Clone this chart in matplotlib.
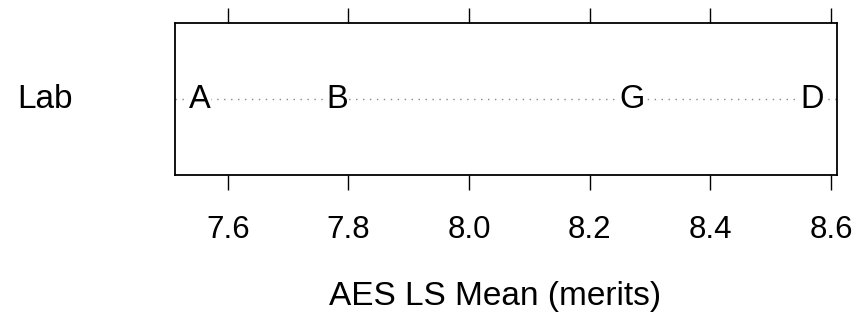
import matplotlib.pyplot as plt

plt.rcParams['font.family'] = ['Liberation Sans', 'DejaVu Sans']

labs = ["A", "B", "G", "D"]
means = [7.553, 7.781, 8.270, 8.569]
row_label = "Lab"
ticks = [7.6, 7.8, 8.0, 8.2, 8.4, 8.6]
tick_labels = ["7.6", "7.8", "8.0", "8.2", "8.4", "8.6"]

fig = plt.figure(figsize=(8.66, 3.14), dpi=100)
# box: x 175..836.7, y 23..175 (pixels)
ax = fig.add_axes([175 / 866, 1 - 175 / 314, (836.7 - 175) / 866, (175 - 23) / 314])

span = max(means) - min(means)
ax.set_xlim(min(means) - 0.04 * span, max(means) + 0.04 * span)
ax.set_ylim(0, 2)

ax.axhline(1, color="#888888", linestyle=(0, (1, 4)), linewidth=1, zorder=1)
for lab, m in zip(labs, means):
    ax.text(m, 1, lab, ha="center", va="center", fontsize=23.5,
            bbox=dict(facecolor="white", edgecolor="none", pad=0.3), zorder=2)

ax.set_xticks(ticks)
ax.set_xticklabels(tick_labels, fontsize=22.5)
ax.tick_params(axis="x", which="both", top=True, bottom=True, labeltop=False,
               direction="out", length=11, width=1, pad=18)
ax.set_yticks([])
for s in ax.spines.values():
    s.set_linewidth(1.3)

ax.text(-0.155, 0.5, row_label, transform=ax.transAxes, ha="right", va="center", fontsize=24)
fig.text(495 / 866, 1 - 305 / 314, "AES LS Mean (merits)", ha="center", va="baseline", fontsize=24)

fig.savefig("out.png", dpi=100)
